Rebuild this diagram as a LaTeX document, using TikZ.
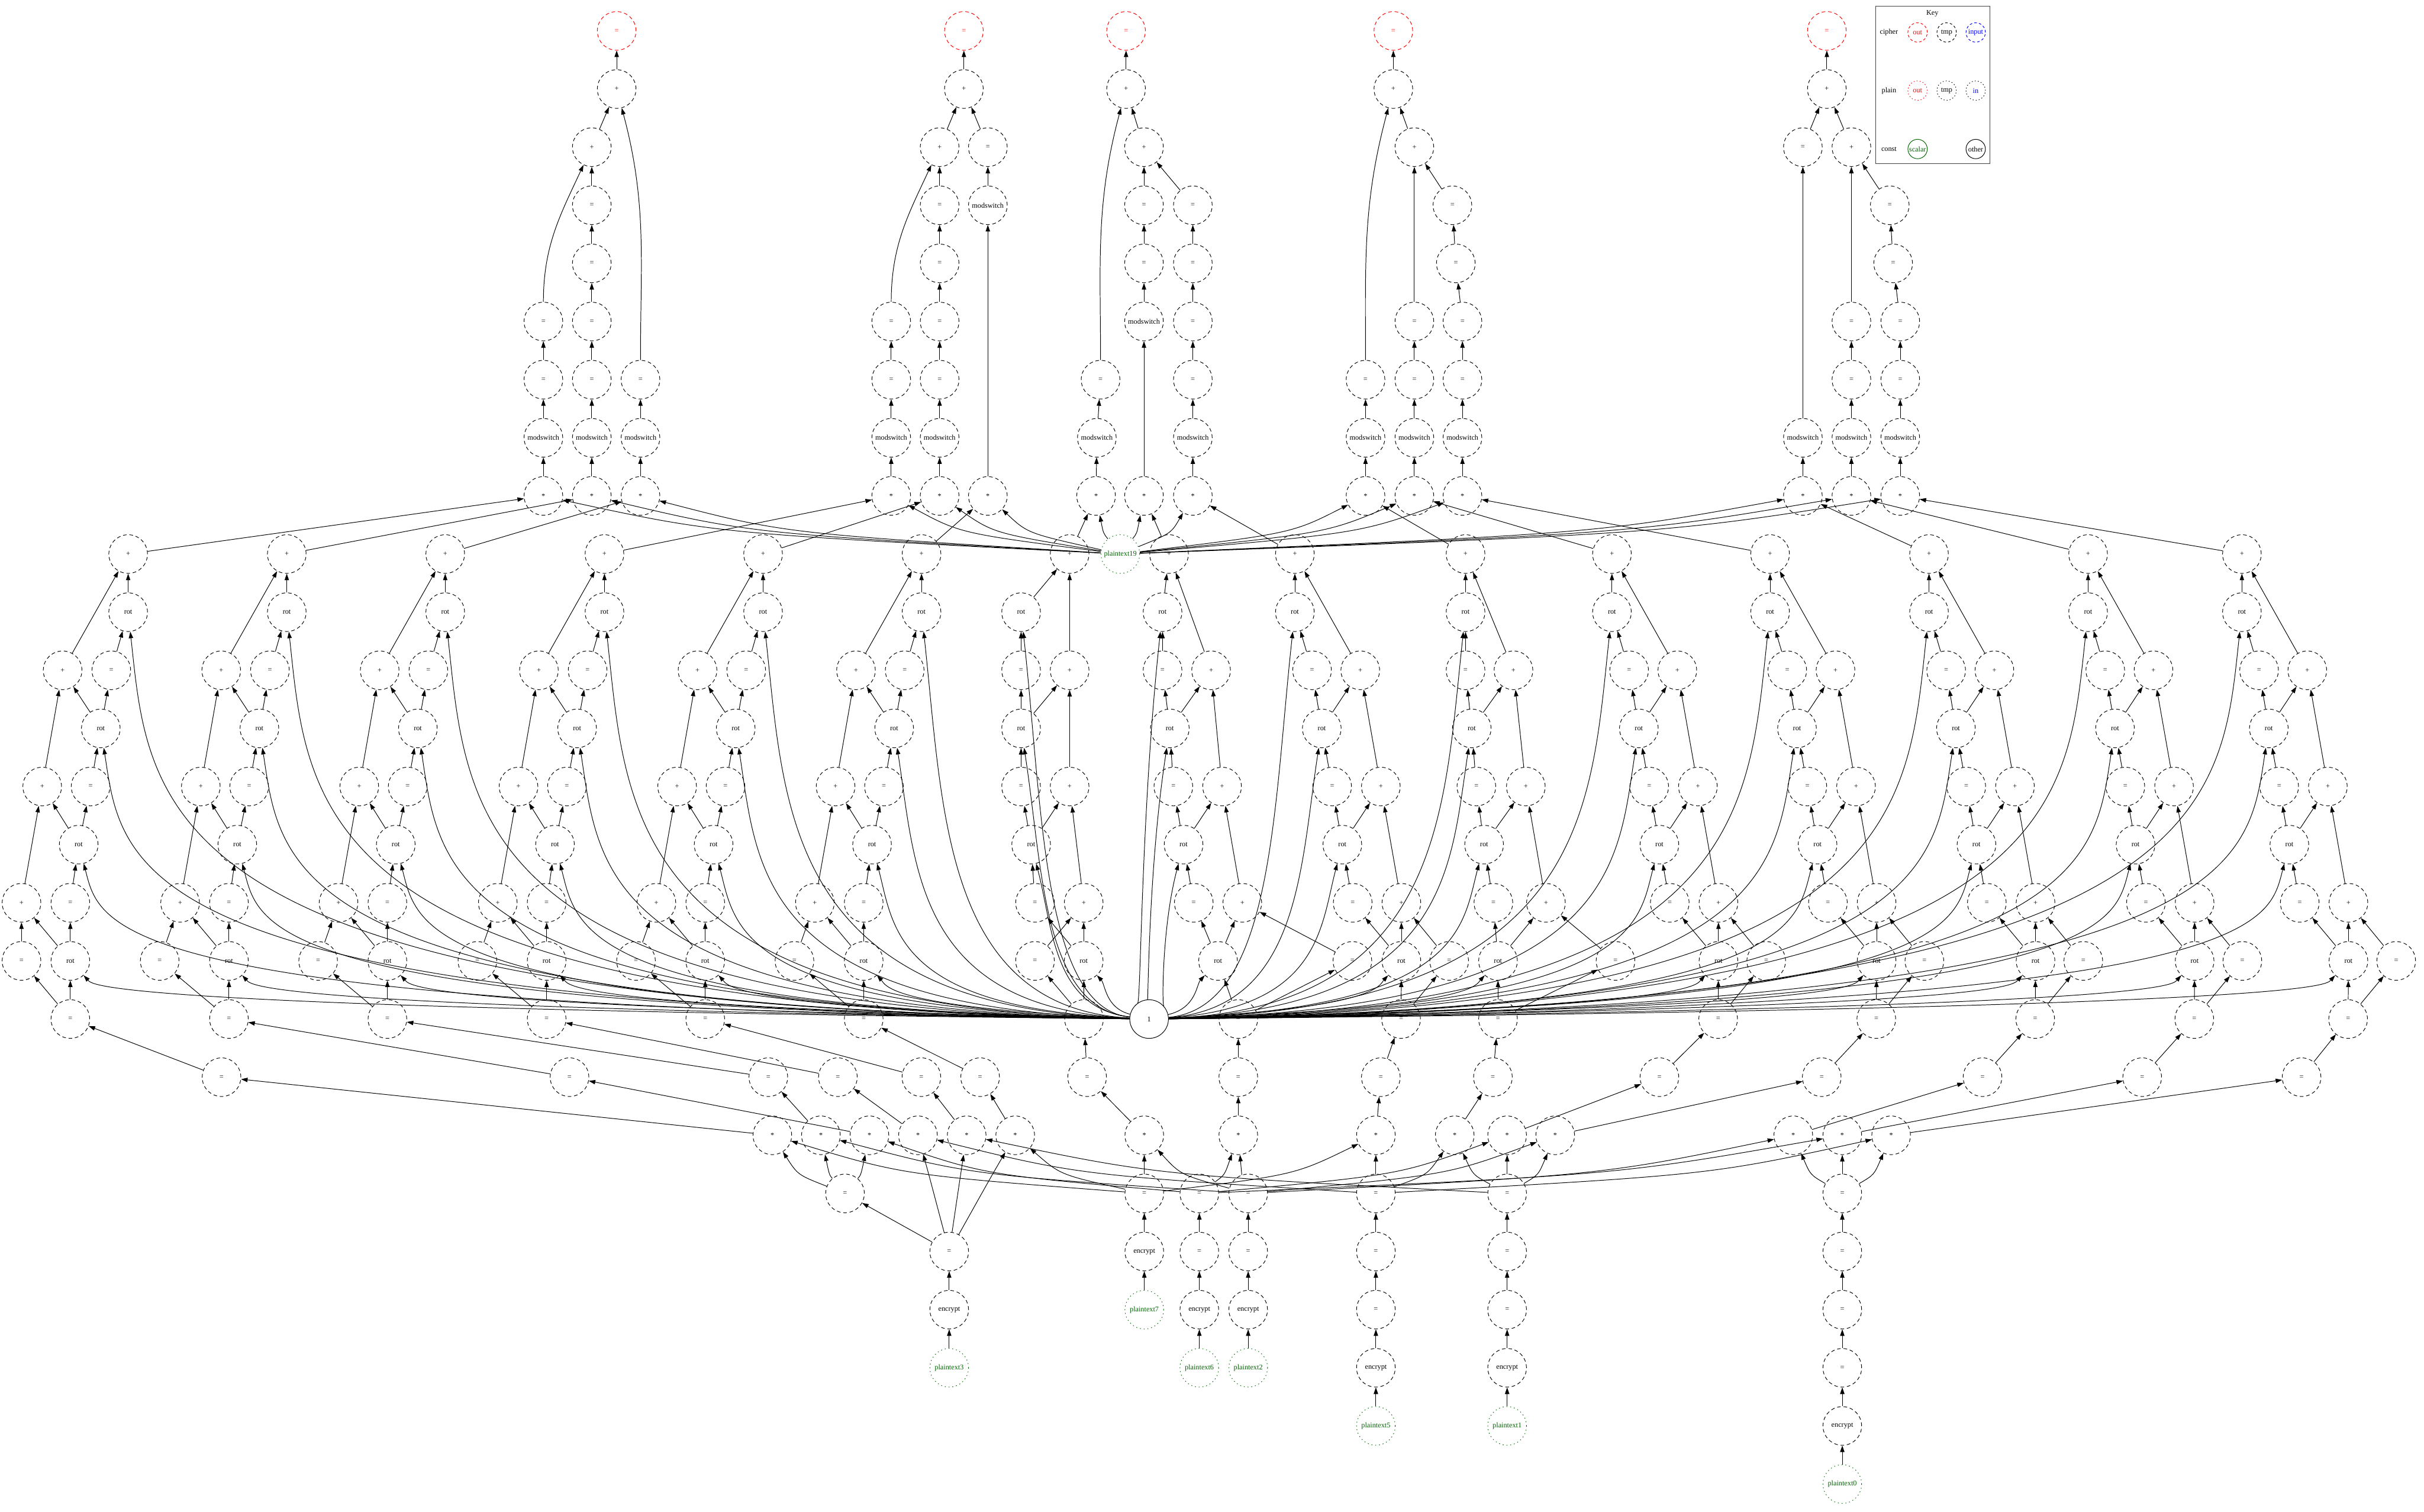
\documentclass[tikz,border=0pt]{standalone}
\usepackage{fontspec}
\setmainfont{Liberation Serif}
\usetikzlibrary{arrows.meta,calc}
\definecolor{dkgreen}{HTML}{006400}
\newcommand{\rk}[1]{20+37.6*#1}

\begin{document}
\begin{tikzpicture}[x=0.75mm, y=-0.75mm,
    op/.style={circle, draw=black, line width=0.8pt, dash pattern=on 5pt off 3.8pt,
      minimum size=18.75mm, inner sep=0pt, font=\fontsize{10}{12}\selectfont},
    outop/.style={op, draw=red, text=red},
    ptxt/.style={op, draw=dkgreen, text=dkgreen, dash pattern=on 1.2pt off 4pt},
    cst/.style={op, solid},
    keyop/.style={op, minimum size=9.4mm, dash pattern=on 3.5pt off 3pt},
    edge/.style={-{Triangle[length=9pt,width=6pt]}, line width=0.8pt},
  ]
  \useasboundingbox (0,0) rectangle (1568,978);

  % output towers
  \foreach \n/\x in {A0/398.9, B0/623.5, C0/728.4, D0/901.3, E0/1181.7}
    \node [outop] (\n) at (\x,{\rk0}) {=};
  \foreach \n/\x/\k/\t in {
      A1/398.9/1/+, A2/382.8/2/+, AM3/382.8/3/=, AM4/382.8/4/=, AM5/382.8/5/=, AM6/382.8/6/=,
      AM7/382.8/7/modswitch, AM8/382.8/8/*, AL5/351.5/5/=, AL6/351.5/6/=, AL7/351.5/7/modswitch,
      AL8/351.5/8/*, AR6/414.3/6/=, AR7/414.3/7/modswitch, AR8/414.3/8/*,
      B1/623.5/1/+, B2/607.8/2/+, BR2/639/2/=, BM3/607.8/3/=, BM4/607.8/4/=, BM5/607.8/5/=,
      BM6/607.8/6/=, BM7/607.8/7/modswitch, BM8/607.8/8/*, BL5/576.5/5/=, BL6/576.5/6/=,
      BL7/576.5/7/modswitch, BL8/576.5/8/*, BR3/639/3/modswitch, BR8/639/8/*,
      C1/728.4/1/+, C2/740/2/+, CM3/740/3/=, CM4/740/4/=, CM5/740/5/modswitch, CM8/740/8/*,
      CR3/771.6/3/=, CR4/771.6/4/=, CR5/771.6/5/=, CR6/771.6/6/=, CR7/771.6/7/modswitch,
      CR8/771.6/8/*, CL6/711.9/6/=, CL7/709.5/7/modswitch, CL8/709/8/*,
      D1/901.3/1/+, D2/914.9/2/+, DM5/914.9/5/=, DM6/914.9/6/=, DM7/914.9/7/modswitch,
      DM8/914.9/8/*, DR3/939.5/3/=, DR4/941.7/4/=, DR5/946/5/=, DR6/946/6/=,
      DR7/946/7/modswitch, DR8/946/8/*, DL6/883.3/6/=, DL7/883.3/7/modswitch, DL8/883.3/8/*,
      E1/1181.7/1/+, EL2/1166.2/2/=, E2/1197.6/2/+, EL7/1166.2/7/modswitch, EL8/1166.2/8/*,
      EM5/1197.6/5/=, EM6/1197.6/6/=, EM7/1197.6/7/modswitch, EM8/1197.6/8/*,
      ER3/1222.4/3/=, ER4/1224.6/4/=, ER5/1229.2/5/=, ER6/1229.2/6/=, ER7/1229.2/7/modswitch,
      ER8/1229.2/8/*}
    \node [op] (\n) at (\x,{\rk{\k}}) {\t};

  \foreach \a/\b in {
      A1/A0, A2/A1, AM3/A2, AM4/AM3, AM5/AM4, AM6/AM5, AM7/AM6, AM8/AM7, AL6/AL5, AL7/AL6,
      AL8/AL7, AR7/AR6, AR8/AR7,
      B1/B0, B2/B1, BR2/B1, BM3/B2, BM4/BM3, BM5/BM4, BM6/BM5, BM7/BM6, BM8/BM7, BL6/BL5,
      BL7/BL6, BL8/BL7, BR3/BR2, BR8/BR3,
      C1/C0, C2/C1, CM3/C2, CR3/C2, CM4/CM3, CM5/CM4, CM8/CM5, CR4/CR3, CR5/CR4, CR6/CR5,
      CR7/CR6, CR8/CR7, CL7/CL6, CL8/CL7,
      D1/D0, D2/D1, DM5/D2, DR3/D2, DM6/DM5, DM7/DM6, DM8/DM7, DR4/DR3, DR5/DR4, DR6/DR5,
      DR7/DR6, DR8/DR7, DL7/DL6, DL8/DL7,
      E1/E0, EL2/E1, E2/E1, EL7/EL2, EL8/EL7, EM5/E2, ER3/E2, EM6/EM5, EM7/EM6, EM8/EM7,
      ER4/ER3, ER5/ER4, ER6/ER5, ER7/ER6, ER8/ER7}
    \draw [edge] (\a) -- (\b);
  \draw [edge] (AL5) to[out=90, in=-115] (A2);
  \draw [edge] (AR6) to[out=90, in=-75] (A1);
  \draw [edge] (BL5) to[out=90, in=-115] (B2);
  \draw [edge] (CL6) to[out=90, in=-105] (C1);
  \draw [edge] (DL6) to[out=90, in=-105] (D1);

  % encrypted inputs
  \foreach \n/\x/\k/\t in {
      enc3/614/22/encrypt, q3/614/21/=, q3b/546.6/20/=,
      enc7/740.2/21/encrypt, q7/740.2/20/=,
      enc6/775.8/22/encrypt, q6a/775.8/21/=, q6/775.8/20/=,
      enc2/807.4/22/encrypt, q2a/807.4/21/=, q2/807.4/20/=,
      enc5/890/23/encrypt, q5c/890/22/=, q5b/890/21/=, q5/890/20/=,
      enc1/974.9/23/encrypt, q1c/974.9/22/=, q1b/974.9/21/=, q1/974.9/20/=,
      enc0/1191.7/24/encrypt, q0d/1191.7/23/=, q0c/1191.7/22/=, q0b/1191.7/21/=, q0/1191.7/20/=}
    \node [op] (\n) at (\x,{\rk{\k}}) {\t};
  \foreach \n/\x/\k in {3/614/23, 7/740.2/22, 6/775.8/23, 2/807.4/23, 5/890/24, 1/974.9/24, 0/1191.7/25}
    \node [ptxt] (pt\n) at (\x,{\rk{\k}}) {plaintext\n};
  \foreach \a/\b in {
      pt3/enc3, enc3/q3, q3/q3b, pt7/enc7, enc7/q7, pt6/enc6, enc6/q6a, q6a/q6,
      pt2/enc2, enc2/q2a, q2a/q2, pt5/enc5, enc5/q5c, q5c/q5b, q5b/q5,
      pt1/enc1, enc1/q1c, q1c/q1b, q1b/q1, pt0/enc0, enc0/q0d, q0d/q0c, q0c/q0b, q0b/q0}
    \draw [edge] (\a) -- (\b);

  \node [cst] (one) at (743.3,{\rk{17}}) {1};
  \node [ptxt] (pt19) at (724.7,{\rk9}) {plaintext19};

  % rotate-and-sum groups
  \foreach \gid/\xpa/\xra/\xpb/\xea/\xrb/\xpc/\xeb/\xrc/\xpd/\xec/\xrd/\xed/\xee/\xef/\xsx/\gst in {
      1/82.9/82.9/40.5/72/65.2/27.3/58.6/50.9/13.9/45.5/45.5/13.9/45.5/143.3/499.6/AL8,
      2/185.5/185.5/143.1/174.6/167.8/129.9/161.2/153.5/116.5/148.1/148.1/103.3/148.1/368.4/562.4/AM8,
      3/288/288/245.6/277.1/270.3/232.4/263.7/256/219/250.6/250.6/205.8/250.6/497/531/AR8,
      4/391/391/348.6/380.1/373.3/335.4/366.7/359/322/353.6/353.6/308.8/353.6/542/593.8/BL8,
      5/493.6/493.6/451.2/482.7/475.9/438/469.3/461.6/424.6/456.2/456.2/411.4/456.2/596/625.3/BM8,
      6/596.1/596.1/553.7/585.2/578.4/540.5/571.8/564.1/527.1/558.7/558.7/513.9/558.7/634/656.7/BR8,
      7/691.9/660.5/691.9/660.5/660.5/691.9/660.5/667/701/669.5/701/669.5/701.2/703.2/740.2/CL8,
      8/756.2/752/783.4/752/756.7/790.5/759/765.6/803.6/772.2/787.9/874.8/801/801/801/CM8,
      9/837.6/837.6/879.9/848.7/855/893.2/861.7/868.3/906.5/875/906.5/937.4/906.3/893.2/890/CR8,
      10/948/948/979/948/952/987/955/960/1000/966/969/1045/969/965.7/941/DL8,
      11/1042.7/1042.7/1085/1053.8/1060.1/1098.3/1066.8/1073.4/1111.6/1080.1/1111.6/1142.5/1111.4/1073.4/974.9/DM8,
      12/1145/1145/1187.3/1156.1/1162.4/1200.6/1169.1/1175.7/1213.9/1182.4/1213.9/1244.8/1213.7/1178.4/1006/DR8,
      13/1247.8/1247.8/1290.1/1258.9/1265.2/1303.4/1271.9/1278.5/1316.7/1285.2/1316.7/1347.6/1316.5/1282.4/1160/EL8,
      14/1350.7/1350.7/1393/1361.8/1368.1/1406.3/1374.8/1381.4/1419.6/1388.1/1419.6/1450.5/1419.4/1385.7/1191.7/EM8,
      15/1450.2/1450.2/1492.5/1461.3/1467.6/1505.8/1474.3/1480.9/1519.1/1487.6/1519.1/1550/1518.9/1488.8/1223.3/ER8}{
    \node [op] (g\gid-p9) at (\xpa,{\rk9}) {+};
    \node [op] (g\gid-r10) at (\xra,{\rk{10}}) {rot};
    \node [op] (g\gid-p11) at (\xpb,{\rk{11}}) {+};
    \node [op] (g\gid-e11) at (\xea,{\rk{11}}) {=};
    \node [op] (g\gid-r12) at (\xrb,{\rk{12}}) {rot};
    \node [op] (g\gid-p13) at (\xpc,{\rk{13}}) {+};
    \node [op] (g\gid-e13) at (\xeb,{\rk{13}}) {=};
    \node [op] (g\gid-r14) at (\xrc,{\rk{14}}) {rot};
    \node [op] (g\gid-p15) at (\xpd,{\rk{15}}) {+};
    \node [op] (g\gid-e15) at (\xec,{\rk{15}}) {=};
    \node [op] (g\gid-r16) at (\xrd,{\rk{16}}) {rot};
    \node [op] (g\gid-e16) at (\xed,{\rk{16}}) {=};
    \node [op] (g\gid-e17) at (\xee,{\rk{17}}) {=};
    \node [op] (g\gid-e18) at (\xef,{\rk{18}}) {=};
    \node [op] (g\gid-s19) at (\xsx,{\rk{19}}) {*};
    \foreach \a/\b in {r10/p9, p11/p9, e11/r10, r12/e11, r12/p11, p13/p11, e13/r12, r14/e13,
        r14/p13, p15/p13, e15/r14, r16/e15, r16/p15, e16/p15, e17/r16, e17/e16, e18/e17, s19/e18}
      \draw [edge] (g\gid-\a) -- (g\gid-\b);
    \draw [edge] (g\gid-p9) -- (\gst);
    % the rotation amount feeds every rot
    \foreach \rx/\rr/\rn in {\xra/10/r10, \xrb/12/r12, \xrc/14/r14, \xrd/16/r16}{
      \pgfmathsetmacro\cx{\rx<743.3 ? \rx+14 : \rx-14}
      \pgfmathsetmacro\cy{(20+37.6*\rr+652)/2}
      \draw [edge] (one) .. controls (\cx,652) and (\cx,\cy) .. (g\gid-\rn);
    }
  }

  % inputs into the products
  \foreach \q/\qx/\t/\tx in {
      q3b/546.6/1/499.6, q7/740.2/1/499.6, q3b/546.6/2/562.4, q6/775.8/2/562.4,
      q3b/546.6/3/531, q2/807.4/3/531, q3/614/4/593.8, q5/890/4/593.8,
      q3/614/5/625.3, q1/974.9/5/625.3, q3/614/6/656.7, q7/740.2/6/656.7,
      q7/740.2/7/740.2, q2/807.4/7/740.2, q6/775.8/8/801, q2/807.4/8/801,
      q5/890/9/890, q7/740.2/9/890, q1/974.9/10/941, q5/890/10/941,
      q1/974.9/11/974.9, q6/775.8/11/974.9, q1/974.9/12/1006, q2/807.4/12/1006,
      q0/1191.7/13/1160, q2/807.4/13/1160, q0/1191.7/14/1191.7, q6/775.8/14/1191.7,
      q0/1191.7/15/1223.3, q5/890/15/1223.3}{
    \pgfmathsetmacro\mx{\tx+0.35*(\qx-\tx)}
    \draw [edge] (\q) .. controls (\mx,760) .. (g\t-s19);
  }

  % the scalar into every top product
  \foreach \st/\sxx in {AL8/351.5, AM8/382.8, AR8/414.3, BL8/576.5, BM8/607.8, BR8/639,
      CL8/709, CM8/740, CR8/771.6, DL8/883.3, DM8/914.9, DR8/946, EL8/1166.2, EM8/1197.6, ER8/1229.2}{
    \pgfmathsetmacro\mx{\sxx+0.3*(724.7-\sxx)}
    \draw [edge] (pt19) .. controls (\mx,345) .. (\st);
  }

  % key
  \draw [black!75, line width=1pt] (1213.3,3.9) rectangle (1287.2,105.8);
  \node [font=\fontsize{10}{12}\selectfont] (keyt) at (1250,8.6) {Key};
  \node [font=\fontsize{10}{12}\selectfont] (kc) at (1221.9,21) {cipher};
  \node [font=\fontsize{10}{12}\selectfont] (kp) at (1221.9,58.6) {plain};
  \node [font=\fontsize{10}{12}\selectfont] (kk) at (1221.9,96.4) {const};
  \node [keyop, draw=red, text=red] (k1) at (1240.4,21) {out};
  \node [keyop] (k2) at (1259.2,21) {tmp};
  \node [keyop, draw=blue, text=blue] (k3) at (1278,21) {input};
  \node [keyop, draw=red, text=red, dash pattern=on 1.2pt off 3pt] (k4) at (1240.4,58.6) {out};
  \node [keyop, dash pattern=on 1.2pt off 3pt] (k5) at (1259.2,58.6) {tmp};
  \node [keyop, text=blue, dash pattern=on 1.2pt off 3pt] (k6) at (1278,58.6) {in};
  \node [keyop, solid, draw=dkgreen, text=dkgreen] (k7) at (1240.4,96.4) {scalar};
  \node [keyop, solid] (k8) at (1278,96.4) {other};
\end{tikzpicture}
\end{document}
